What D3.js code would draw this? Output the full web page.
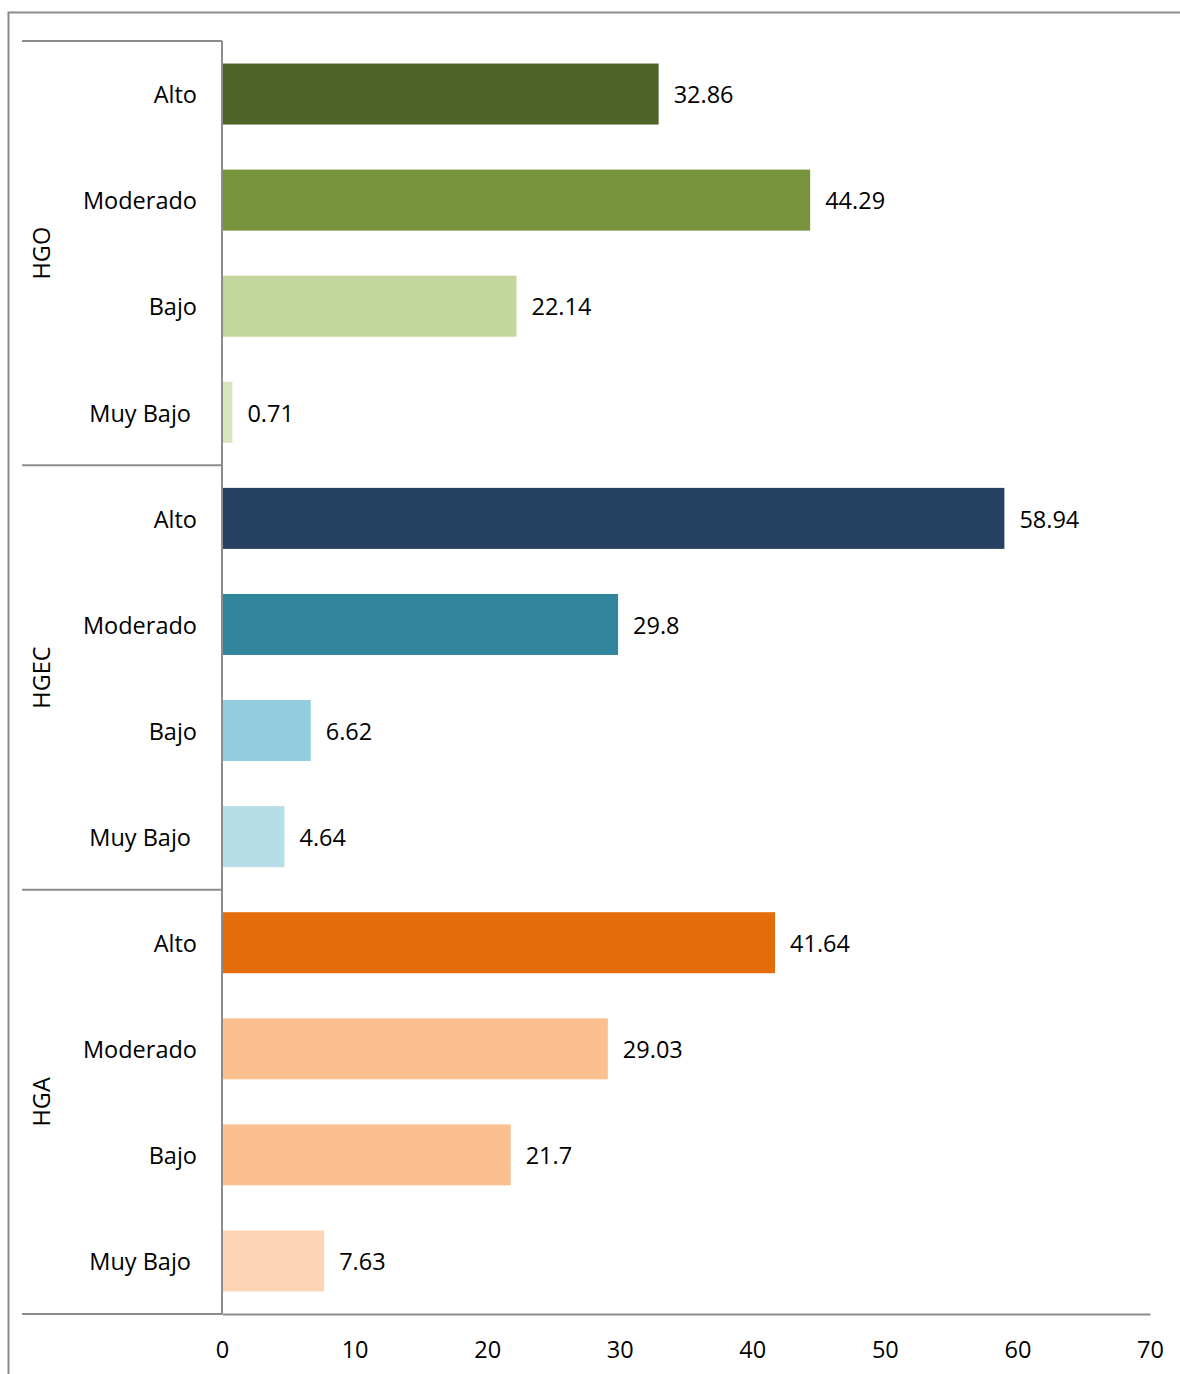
<!DOCTYPE html>
<html>
<head>
<meta charset="utf-8">
<script src="https://cdn.jsdelivr.net/npm/d3@7"></script>
<style>
  body { margin: 0; background: #fff; }
  svg text { font-family: "Open Sans", "Lato", sans-serif; fill: #000; }
</style>
</head>
<body>
<div id="chart"></div>
<script>
const groups = ["HGO", "HGEC", "HGA"];
const levels = ["Alto", "Moderado", "Bajo", "Muy Bajo"];
const hgoValues = [32.86, 44.29, 22.14, 0.71];
const hgecValues = [58.94, 29.8, 6.62, 4.64];
const hgaValues = [41.64, 29.03, 21.7, 7.63];
const hgoColors = ["#4F6228", "#77933C", "#C3D69B", "#D7E4BD"];
const hgecColors = ["#254061", "#31859C", "#93CDDD", "#B7DEE8"];
const hgaColors = ["#E46C0A", "#FAC090", "#FAC090", "#FCD5B5"];
const xTicks = [0, 10, 20, 30, 40, 50, 60, 70];

const valuesByGroup = [hgoValues, hgecValues, hgaValues];
const colorsByGroup = [hgoColors, hgecColors, hgaColors];

const rows = [];
groups.forEach((g, gi) => {
  levels.forEach((l, li) => {
    rows.push({ id: g + "-" + l, group: g, level: l, value: valuesByGroup[gi][li], color: colorsByGroup[gi][li] });
  });
});

const width = 1180, height = 1374;
const margin = { top: 41, left: 222, right: 30, bottom: 60 };
const iwidth = width - margin.left - margin.right;
const iheight = height - margin.top - margin.bottom;
const fs = 23.5;

const svg = d3.select("#chart").append("svg")
  .attr("width", width)
  .attr("height", height);

// outer border
svg.append("path")
  .attr("d", `M${width},12.5 H8.5 V${height}`)
  .attr("fill", "none")
  .attr("stroke", "#8c8c8c")
  .attr("stroke-width", 2);

const g = svg.append("g").attr("transform", `translate(${margin.left},${margin.top})`);

const x = d3.scaleLinear().domain([0, 70]).range([0, iwidth]);
const y = d3.scaleBand().domain(rows.map(d => d.id)).range([0, iheight]).paddingInner(0.425).paddingOuter(0.2125);
const groupBand = d3.scaleBand().domain(groups).range([0, iheight]);

g.selectAll("rect.bar").data(rows).enter().append("rect")
  .attr("class", "bar")
  .attr("x", x(0) + 1)
  .attr("y", d => y(d.id))
  .attr("width", d => x(d.value) - x(0))
  .attr("height", y.bandwidth())
  .attr("fill", d => d.color);

g.selectAll("text.val").data(rows).enter().append("text")
  .attr("class", "val")
  .attr("x", d => x(d.value) + 16)
  .attr("y", d => y(d.id) + y.bandwidth() / 2 + 1)
  .attr("dy", "0.35em")
  .attr("font-size", fs)
  .text(d => d.value);

g.selectAll("text.cat").data(rows).enter().append("text")
  .attr("class", "cat")
  .attr("x", d => d.level === "Muy Bajo" ? -31 : -25)
  .attr("y", d => y(d.id) + y.bandwidth() / 2 + 1)
  .attr("dy", "0.35em")
  .attr("text-anchor", "end")
  .attr("font-size", fs)
  .text(d => d.level);

// group labels
g.selectAll("text.grp").data(groups).enter().append("text")
  .attr("class", "grp")
  .attr("transform", d => `translate(${-180},${groupBand(d) + groupBand.bandwidth() / 2}) rotate(-90)`)
  .attr("dy", "0.35em")
  .attr("text-anchor", "middle")
  .attr("font-size", fs)
  .text(d => d);

// group separators
const seps = groups.map(d => groupBand(d)).concat([iheight]);
g.selectAll("line.sep").data(seps).enter().append("line")
  .attr("class", "sep")
  .attr("x1", -200).attr("x2", 0)
  .attr("y1", d => d).attr("y2", d => d)
  .attr("stroke", "#8c8c8c")
  .attr("stroke-width", 2);

// vertical axis line
g.append("line")
  .attr("x1", 0).attr("x2", 0)
  .attr("y1", 0).attr("y2", iheight)
  .attr("stroke", "#8c8c8c")
  .attr("stroke-width", 2);

// x axis
const xAxis = g.append("g")
  .attr("transform", `translate(0,${iheight})`)
  .call(d3.axisBottom(x).tickValues(xTicks).tickSize(0).tickPadding(27).tickFormat(d3.format("d")));
xAxis.select(".domain").attr("stroke", "#8c8c8c").attr("stroke-width", 2);
xAxis.selectAll("text").attr("font-size", fs).attr("font-family", "\"Open Sans\", sans-serif").attr("fill", "#000");
</script>
</body>
</html>
